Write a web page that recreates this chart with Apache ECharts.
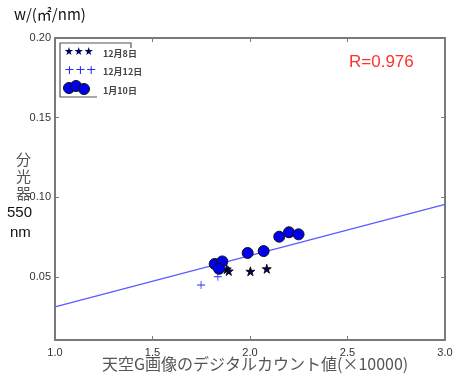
<!DOCTYPE html>
<html>
<head>
<meta charset="utf-8">
<script src="https://cdn.jsdelivr.net/npm/echarts@6/dist/echarts.min.js"></script>
<style>
  html, body { margin: 0; padding: 0; background: #fff; }
  #chart { width: 459px; height: 380px; }
</style>
</head>
<body>
<div id="chart"></div>
<script>
// Observations: sky-camera G digital count (×10000) vs. spectrometer irradiance at 550 nm
const dec8X   = [1.881, 1.891, 2.002, 2.086];
const dec8Y   = [0.0550, 0.0538, 0.0536, 0.0552];
const dec12X  = [1.749, 1.835];
const dec12Y  = [0.0450, 0.0502];
const jan10X  = [1.819, 1.858, 1.841, 1.988, 2.070, 2.150, 2.200, 2.249];
const jan10Y  = [0.0582, 0.0598, 0.0552, 0.0651, 0.0663, 0.0753, 0.0781, 0.0768];

// Regression line end points
const fitX = [1.0, 3.0];
const fitY = [0.0313, 0.0956];

// Axis ticks
const xTicks = [1.0, 1.5, 2.0, 2.5, 3.0];
const yTicks = [0.05, 0.10, 0.15, 0.20];

const pairs = (xs, ys) => xs.map((x, i) => [x, ys[i]]);

const STAR = 'path://M50,0 L61,35 L98,35 L68,57 L79,91 L50,70 L21,91 L32,57 L2,35 L39,35 Z';
const PLUS = 'path://M9,0 L11,0 L11,9 L20,9 L20,11 L11,11 L11,20 L9,20 L9,11 L0,11 L0,9 L9,9 Z';

const frame = '#7a7a7a';
const tickFont = { fontFamily: 'Liberation Sans', fontSize: 11, color: '#333' };

function xAx(pos, labels) {
  return {
    type: 'value', position: pos, min: 1.0, max: 3.0, interval: 0.5,
    axisLine: { show: true, lineStyle: { color: frame, width: 2 } },
    axisTick: { show: true, inside: true, length: 4, lineStyle: { color: frame } },
    axisLabel: labels ? Object.assign({ show: true, margin: 7, formatter: v => v.toFixed(1) }, tickFont) : { show: false },
    splitLine: { show: false }
  };
}
function yAx(pos, labels) {
  return {
    type: 'value', position: pos, min: 0.0105, max: 0.20,
    axisLine: { show: true, lineStyle: { color: frame, width: 2 } },
    axisTick: { show: true, inside: true, length: 4, customValues: yTicks, lineStyle: { color: frame } },
    axisLabel: labels ? Object.assign({ show: true, margin: 4, customValues: yTicks, formatter: v => v.toFixed(2) }, tickFont) : { show: false },
    splitLine: { show: false }
  };
}

const chart = echarts.init(document.getElementById('chart'), null, { renderer: 'canvas' });
const jp = '"Noto Sans CJK JP", sans-serif';

chart.setOption({
  animation: false,
  backgroundColor: '#fff',
  grid: { left: 55, right: 14, top: 38, bottom: 40 },
  xAxis: [xAx('bottom', true), xAx('top', false)],
  yAxis: [yAx('left', true), yAx('right', false)],
  series: [
    {
      type: 'line', data: pairs(fitX, fitY), showSymbol: false, symbol: 'none',
      lineStyle: { color: '#5a5aff', width: 1.2 }, z: 2
    },
    {
      name: '12月8日', type: 'scatter', data: pairs(dec8X, dec8Y), symbol: STAR, symbolSize: 9,
      itemStyle: { color: '#00005a', borderColor: '#000', borderWidth: 0.8, opacity: 1 }, z: 3
    },
    {
      name: '12月12日', type: 'scatter', data: pairs(dec12X, dec12Y), symbol: PLUS, symbolSize: 8,
      itemStyle: { color: '#2b2bff', opacity: 1 }, z: 3
    },
    {
      name: '1月10日', type: 'scatter', data: pairs(jan10X, jan10Y), symbol: 'circle', symbolSize: 11,
      itemStyle: { color: '#0000ee', borderColor: '#111', borderWidth: 1, opacity: 1 }, z: 4
    }
  ],
  graphic: [
    // axis titles
    { type: 'text', left: 14, top: 7, style: { text: 'w/(㎡/nm)', font: '15px ' + jp, fill: '#111' } },
    { type: 'text', left: 16, top: 151, style: { text: '分\n光\n器', font: '15px ' + jp, fill: '#555', lineHeight: 17, align: 'left' } },
    { type: 'text', left: 7, top: 205, style: { text: '550', font: '15px "Liberation Sans", sans-serif', fill: '#111' } },
    { type: 'text', left: 10, top: 225, style: { text: 'nm', font: '15px "Liberation Sans", sans-serif', fill: '#111' } },
    { type: 'text', left: 102, top: 356, style: { text: '天空G画像のデジタルカウント値(×10000)', font: '16px ' + jp, fill: '#555' } },
    { type: 'text', left: 349, top: 54, style: { text: 'R=0.976', font: '17px "Liberation Sans", sans-serif', fill: '#ff3030' } },
    // legend frame
    { type: 'polyline', shape: { points: [[131, 48], [131, 43], [60, 43], [60, 97], [97, 97]] },
      style: { stroke: '#555', lineWidth: 1.2, fill: null } },
    // legend keys
    { type: 'text', left: 64, top: 47, style: { text: '★★★', font: '11px "DejaVu Sans"', fill: '#00005a' } },
    { type: 'text', left: 64, top: 64, style: { text: '+++', font: '13px "DejaVu Sans"', fill: '#2b2bff' } },
    { type: 'circle', shape: { cx: 69, cy: 88, r: 5.5 }, style: { fill: '#0000ee', stroke: '#111', lineWidth: 1 } },
    { type: 'circle', shape: { cx: 76, cy: 86, r: 5.5 }, style: { fill: '#0000ee', stroke: '#111', lineWidth: 1 } },
    { type: 'circle', shape: { cx: 84, cy: 89, r: 5.5 }, style: { fill: '#0000ee', stroke: '#111', lineWidth: 1 } },
    // legend labels
    { type: 'text', left: 103, top: 49, style: { text: '12月8日', font: 'bold 9px ' + jp, fill: '#444' } },
    { type: 'text', left: 103, top: 67, style: { text: '12月12日', font: 'bold 9px ' + jp, fill: '#444' } },
    { type: 'text', left: 103, top: 86, style: { text: '1月10日', font: 'bold 9px ' + jp, fill: '#444' } }
  ]
});
</script>
</body>
</html>
